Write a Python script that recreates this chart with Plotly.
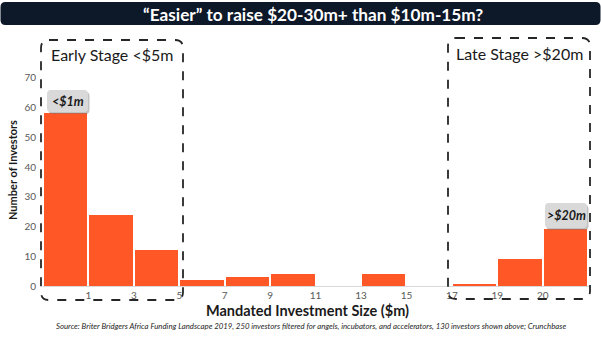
import plotly.graph_objects as go

# ---- data ----
edge_labels = ["1", "3", "5", "7", "9", "11", "13", "15", "17", "19", "20"]
counts = [58, 24, 12, 2, 3, 4, 0, 4, 0, 0.6, 9, 19]
y_ticks = [0, 10, 20, 30, 40, 50, 60, 70]
title_text = "“Easier” to raise $20-30m+ than $10m-15m?"
early_label = "Early Stage <$5m"
late_label = "Late Stage >$20m"
low_tag = "<$1m"
high_tag = ">$20m"
x_title = "Mandated Investment Size ($m)"
y_title = "Number of Investors"
source_text = ("Source: Briter Bridgers Africa Funding Landscape 2019, 250 investors filtered for angels, "
               "incubators, and accelerators, 130 investors shown above; Crunchbase")

W, H = 601, 341
L, R, T, B = 43, 11, 48, 55
PW = W - L - R
PH = H - T - B


def px(x):
    return (x - L) / PW


def py(y):
    return (H - B - y) / PH


def rrect(x0, y0, x1, y1, r):
    pts = [
        ("M", [(x0 + r, y0)]),
        ("L", [(x1 - r, y0)]),
        ("Q", [(x1, y0), (x1, y0 + r)]),
        ("L", [(x1, y1 - r)]),
        ("Q", [(x1, y1), (x1 - r, y1)]),
        ("L", [(x0 + r, y1)]),
        ("Q", [(x0, y1), (x0, y1 - r)]),
        ("L", [(x0, y0 + r)]),
        ("Q", [(x0, y0), (x0 + r, y0)]),
    ]
    s = ""
    for cmd, ps in pts:
        s += cmd + " " + " ".join(f"{px(a):.5f},{py(b):.5f}" for a, b in ps) + " "
    return s + "Z"


positions = [i + 0.5 for i in range(len(counts))]

fig = go.Figure()
fig.add_trace(go.Bar(
    x=positions, y=counts, width=0.955,
    marker=dict(color="#FF5726", line=dict(width=0)),
    hoverinfo="skip",
))

shapes = []
# title bar
shapes.append(dict(type="path", xref="paper", yref="paper", path=rrect(0.5, 2, 600.5, 25, 5),
                   fillcolor="#0d1829", line=dict(width=0), layer="above"))
# dashed boxes
for (x0, y0, x1, y1) in [(41, 40, 183, 300), (448, 38, 590, 299)]:
    shapes.append(dict(type="path", xref="paper", yref="paper", path=rrect(x0, y0, x1, y1, 8),
                       fillcolor="rgba(0,0,0,0)", line=dict(color="#262626", width=1.8, dash="dash"),
                       layer="above"))
# tag boxes with shadow
for (x0, y0, x1, y1) in [(47, 90, 88, 112), (545, 203, 587, 228)]:
    shapes.append(dict(type="path", xref="paper", yref="paper", path=rrect(x0 + 1.5, y0 + 2, x1 + 1.5, y1 + 2, 4),
                       fillcolor="rgba(120,120,120,0.45)", line=dict(width=0), layer="above"))
    shapes.append(dict(type="path", xref="paper", yref="paper", path=rrect(x0, y0, x1, y1, 4),
                       fillcolor="#d9d9d9", line=dict(width=0), layer="above"))

annotations = [
    dict(text=f"<b>{title_text}</b>", x=px(313), y=py(14), xref="paper", yref="paper",
         showarrow=False, xanchor="center", yanchor="middle",
         font=dict(family="Lato", size=17.2, color="white")),
    dict(text=early_label, x=px(112), y=py(54), xref="paper", yref="paper",
         showarrow=False, xanchor="center", yanchor="middle",
         font=dict(family="Lato", size=16, color="#1a1a1a")),
    dict(text=late_label, x=px(519), y=py(53), xref="paper", yref="paper",
         showarrow=False, xanchor="center", yanchor="middle",
         font=dict(family="Lato", size=16, color="#1a1a1a")),
    dict(text=f"<b><i>{low_tag}</i></b>", x=px(67.5), y=py(101), xref="paper", yref="paper",
         showarrow=False, xanchor="center", yanchor="middle",
         font=dict(family="Lato", size=12.5, color="#1a1a1a")),
    dict(text=f"<b><i>{high_tag}</i></b>", x=px(566), y=py(215.5), xref="paper", yref="paper",
         showarrow=False, xanchor="center", yanchor="middle",
         font=dict(family="Lato", size=12.5, color="#1a1a1a")),
    dict(text=f"<b>{x_title}</b>", x=px(307), y=py(310), xref="paper", yref="paper",
         showarrow=False, xanchor="center", yanchor="middle",
         font=dict(family="Lato", size=14.5, color="#1a1a1a")),
    dict(text=f"<b>{y_title}</b>", x=px(12), y=py(170), xref="paper", yref="paper",
         showarrow=False, xanchor="center", yanchor="middle", textangle=-90,
         font=dict(family="Lato", size=11, color="#1a1a1a")),
    dict(text=f"<i>{source_text}</i>", x=px(311), y=py(326), xref="paper", yref="paper",
         showarrow=False, xanchor="center", yanchor="middle",
         font=dict(family="Lato", size=7.8, color="#262626")),
]

fig.update_layout(
    width=W, height=H,
    margin=dict(l=L, r=R, t=T, b=B),
    paper_bgcolor="white", plot_bgcolor="white",
    showlegend=False,
    bargap=0,
    shapes=shapes,
    annotations=annotations,
    xaxis=dict(range=[0, 12.04], tickvals=list(range(1, len(edge_labels) + 1)), ticktext=edge_labels,
               showgrid=False, zeroline=False, showline=True, linecolor="#d9d9d9", linewidth=1,
               ticks="", tickfont=dict(family="Lato", size=10, color="#595959")),
    yaxis=dict(range=[0, 80], tickvals=y_ticks, showgrid=False, zeroline=False, showline=False,
               ticks="", ticklabelstandoff=6, tickfont=dict(family="Lato", size=10, color="#595959")),
)

fig.write_html("out.html")
